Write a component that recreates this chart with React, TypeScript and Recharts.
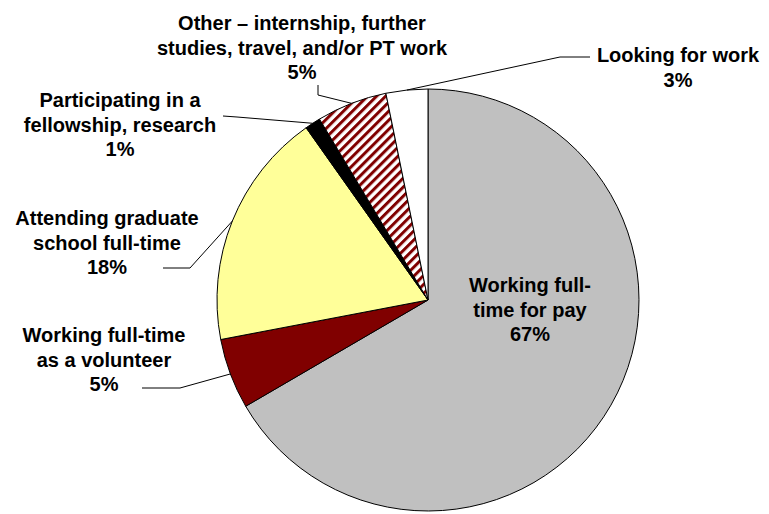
import { PieChart, Pie, Cell } from 'recharts'

const categories = [
  'Working full-time for pay',
  'Working full-time as a volunteer',
  'Attending graduate school full-time',
  'Participating in a fellowship, research',
  'Other – internship, further studies, travel, and/or PT work',
  'Looking for work',
]
const shares = [66.6, 5.4, 18.2, 1.2, 5.4, 3.2]
const labelLines = [
  ['Working full-', 'time for pay'],
  ['Working full-time', 'as a volunteer'],
  ['Attending graduate', 'school full-time'],
  ['Participating in a', 'fellowship, research'],
  ['Other – internship, further', 'studies, travel, and/or PT work'],
  ['Looking for work'],
]

const data = categories.map((name, i) => ({ name, value: shares[i] }))

const FILLS = ['#c0c0c0', '#800000', '#ffff99', '#000000', 'url(#redStripes)', '#ffffff']

// text anchor (center x, first baseline) and leader elbow points, per slice
const LAYOUT: { x: number; y: number; leader: [number, number][] | null }[] = [
  { x: 530, y: 292, leader: null },
  { x: 104, y: 342, leader: [[142, 388], [180, 388]] },
  { x: 107, y: 225, leader: [[163, 268], [190, 268]] },
  { x: 120, y: 107, leader: [[223, 116], [237, 117]] },
  { x: 302, y: 30, leader: [[318, 85], [318, 95]] },
  { x: 678, y: 62, leader: [[590, 57], [560, 57]] },
]

const RAD = Math.PI / 180
const LINE_H = 24.5

function renderLabel(props: any) {
  const { cx, cy, midAngle, outerRadius, index, percent } = props
  const lay = LAYOUT[index]
  const lines = [...labelLines[index], `${Math.round(percent * 100)}%`]
  const px = cx + outerRadius * Math.cos(-midAngle * RAD)
  const py = cy + outerRadius * Math.sin(-midAngle * RAD)
  const pts = lay.leader ? [...lay.leader, [px, py]] : null
  return (
    <g key={`lbl-${index}`}>
      {pts && (
        <polyline
          points={pts.map(p => p.join(',')).join(' ')}
          fill="none"
          stroke="#000"
          strokeWidth={1}
        />
      )}
      <text
        x={lay.x}
        y={lay.y}
        textAnchor="middle"
        fontFamily="'Liberation Sans', Arial, sans-serif"
        fontWeight="bold"
        fontSize={20}
        fill="#000"
      >
        {lines.map((l, i) => (
          <tspan key={i} x={lay.x} y={lay.y + i * LINE_H}>{l}</tspan>
        ))}
      </text>
    </g>
  )
}

export default function App() {
  return (
    <div style={{ position: 'absolute', left: 0, top: 0, width: 769, height: 514, background: '#fff' }}>
      <PieChart width={769} height={514} margin={{ top: 0, right: 0, bottom: 0, left: 0 }}>
        <defs>
          <pattern id="redStripes" width="6.4" height="6.4" patternUnits="userSpaceOnUse" patternTransform="rotate(45)">
            <rect width="6.4" height="6.4" fill="#fff" />
            <rect width="3" height="6.4" fill="#800000" />
          </pattern>
        </defs>
        <Pie
          data={data}
          dataKey="value"
          nameKey="name"
          cx={428}
          cy={300}
          outerRadius={211}
          startAngle={90}
          endAngle={-270}
          stroke="#000"
          strokeWidth={1}
          label={renderLabel}
          labelLine={false}
          isAnimationActive={false}
        >
          {data.map((d, i) => (
            <Cell key={d.name} fill={FILLS[i]} />
          ))}
        </Pie>
      </PieChart>
    </div>
  )
}
